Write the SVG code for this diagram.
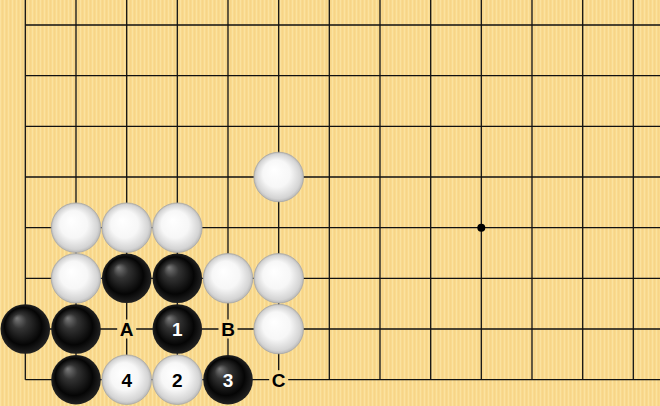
<svg xmlns="http://www.w3.org/2000/svg" width="660" height="406" viewBox="0 0 660 406">
<defs>
<pattern id="wood" patternUnits="userSpaceOnUse" width="4" height="10">
<rect width="4" height="10" fill="#F9DA8E"/>
<rect x="0" width="1" height="10" fill="#FBE2A0"/>
<rect x="2" width="1" height="10" fill="#F7D488"/>
</pattern>
<radialGradient id="gb" cx="0.5" cy="0.5" r="0.5" fx="0.33" fy="0.28">
<stop offset="0" stop-color="#7a7a7a"/>
<stop offset="0.3" stop-color="#333"/>
<stop offset="0.75" stop-color="#050505"/>
<stop offset="1" stop-color="#222"/>
</radialGradient>
<radialGradient id="gw" cx="0.5" cy="0.5" r="0.5" fx="0.4" fy="0.35">
<stop offset="0" stop-color="#ffffff"/>
<stop offset="0.55" stop-color="#f7f7f7"/>
<stop offset="0.9" stop-color="#d4d4d4"/>
<stop offset="1" stop-color="#b8b8b8"/>
</radialGradient>
<style>
.ln{stroke:#111;stroke-width:1.3;fill:none}
.b{fill:url(#gb)}
.w{fill:url(#gw);stroke:#a8a8a8;stroke-width:0.8}
.t{font-family:"Liberation Sans",Arial,sans-serif;font-weight:bold;font-size:19px;text-anchor:middle}
.tw{fill:#fff}
.tk{fill:#000}
.bg{fill:url(#wood)}
</style>
</defs>
<rect width="660" height="406" fill="url(#wood)"/>
<g id="grid" class="ln">
<path d="M25.3 0V379.7M76 0V379.7M126.7 0V379.7M177.3 0V379.7M228 0V379.7M278.7 0V379.7M329.3 0V379.7M380 0V379.7M430.7 0V379.7M481.3 0V379.7M532 0V379.7M582.7 0V379.7M633.3 0V379.7"/>
<path d="M25.3 25H660M25.3 75.7H660M25.3 126.3H660M25.3 177H660M25.3 227.7H660M25.3 278.3H660M25.3 329H660M25.3 379.7H660"/>
</g>
<circle id="star" cx="481.3" cy="227.7" r="4" fill="#000"/>
<g id="connectors"></g>
<g id="w-f3"><circle class="w" cx="278.7" cy="177" r="24.8"/></g>
<g id="w-b4"><circle class="w" cx="76" cy="227.7" r="24.8"/></g>
<g id="w-c4"><circle class="w" cx="126.7" cy="227.7" r="24.8"/></g>
<g id="w-d4"><circle class="w" cx="177.3" cy="227.7" r="24.8"/></g>
<g id="w-b5"><circle class="w" cx="76" cy="278.3" r="24.8"/></g>
<g id="b-c5"><circle class="b" cx="126.7" cy="278.3" r="24.8"/></g>
<g id="b-d5"><circle class="b" cx="177.3" cy="278.3" r="24.8"/></g>
<g id="w-e5"><circle class="w" cx="228" cy="278.3" r="24.8"/></g>
<g id="w-f5"><circle class="w" cx="278.7" cy="278.3" r="24.8"/></g>
<g id="b-a6"><circle class="b" cx="25.3" cy="329" r="24.8"/></g>
<g id="b-b6"><circle class="b" cx="76" cy="329" r="24.8"/></g>
<g id="label-A"><rect class="bg" x="117.2" y="319.5" width="19" height="19"/><text class="t tk" x="126.7" y="335.8">A</text></g>
<g id="b-1"><circle class="b" cx="177.3" cy="329" r="24.8"/><text class="t tw" x="177.3" y="335.8">1</text></g>
<g id="label-B"><rect class="bg" x="218.5" y="319.5" width="19" height="19"/><text class="t tk" x="228" y="335.8">B</text></g>
<g id="w-f6"><circle class="w" cx="278.7" cy="329" r="24.8"/></g>
<g id="b-b7"><circle class="b" cx="76" cy="379.7" r="24.8"/></g>
<g id="w-4"><circle class="w" cx="126.7" cy="379.7" r="24.8"/><text class="t tk" x="126.7" y="386.5">4</text></g>
<g id="w-2"><circle class="w" cx="177.3" cy="379.7" r="24.8"/><text class="t tk" x="177.3" y="386.5">2</text></g>
<g id="b-3"><circle class="b" cx="228" cy="379.7" r="24.8"/><text class="t tw" x="228" y="386.5">3</text></g>
<g id="label-C"><rect class="bg" x="269.2" y="370.2" width="19" height="19"/><text class="t tk" x="278.7" y="386.5">C</text></g>
</svg>
